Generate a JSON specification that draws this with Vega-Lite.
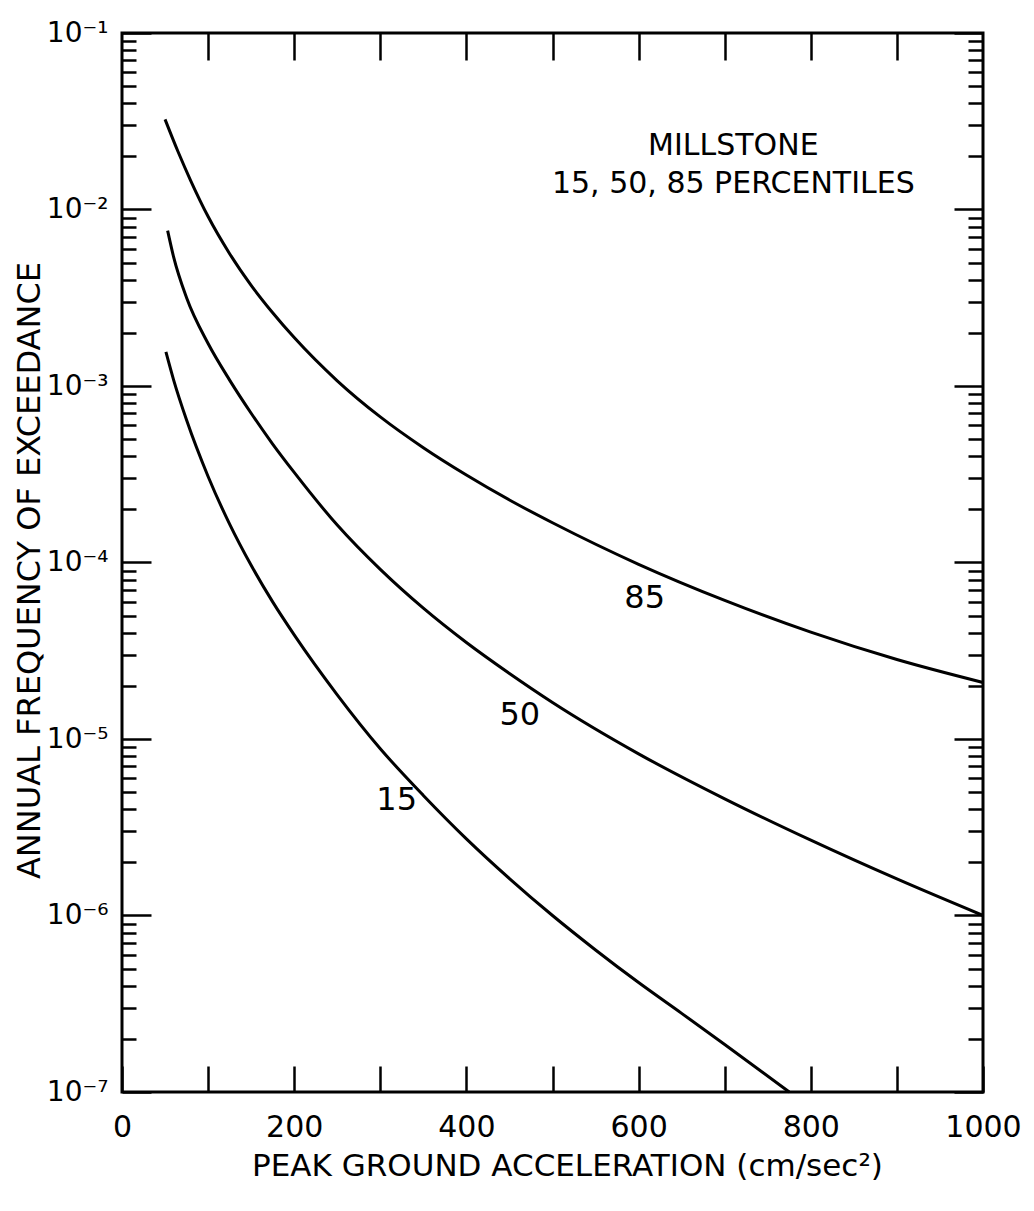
{
  "$schema": "https://vega.github.io/schema/vega-lite/v6.json",
  "width": 861,
  "height": 1059,
  "autosize": {"type": "none"},
  "padding": {"left": 122, "top": 33, "right": 51, "bottom": 119},
  "background": "white",
  "config": {
    "view": {"stroke": "black", "strokeWidth": 3},
    "font": "DejaVu Sans",
    "axis": {
      "domain": false,
      "grid": false,
      "tickColor": "black",
      "tickWidth": 2.5,
      "labelColor": "black",
      "titleColor": "black",
      "labelFont": "DejaVu Sans",
      "titleFont": "DejaVu Sans",
      "labelFontSize": 30,
      "titleFontSize": 31,
      "titleFontWeight": "normal",
      "labelOverlap": false,
      "labelFlush": false
    }
  },
  "datasets": {
    "curves": [
      {"pct": "85", "pga": 50, "freq": 3.24e-2},
      {"pct": "85", "pga": 65, "freq": 2.13e-2},
      {"pct": "85", "pga": 80, "freq": 1.45e-2},
      {"pct": "85", "pga": 100, "freq": 9.12e-3},
      {"pct": "85", "pga": 125, "freq": 5.62e-3},
      {"pct": "85", "pga": 150, "freq": 3.72e-3},
      {"pct": "85", "pga": 175, "freq": 2.6e-3},
      {"pct": "85", "pga": 200, "freq": 1.88e-3},
      {"pct": "85", "pga": 250, "freq": 1.07e-3},
      {"pct": "85", "pga": 300, "freq": 6.68e-4},
      {"pct": "85", "pga": 350, "freq": 4.47e-4},
      {"pct": "85", "pga": 400, "freq": 3.13e-4},
      {"pct": "85", "pga": 450, "freq": 2.26e-4},
      {"pct": "85", "pga": 500, "freq": 1.68e-4},
      {"pct": "85", "pga": 600, "freq": 9.77e-5},
      {"pct": "85", "pga": 700, "freq": 6.1e-5},
      {"pct": "85", "pga": 800, "freq": 4.03e-5},
      {"pct": "85", "pga": 900, "freq": 2.82e-5},
      {"pct": "85", "pga": 1000, "freq": 2.09e-5},
      {"pct": "50", "pga": 53, "freq": 7.59e-3},
      {"pct": "50", "pga": 60, "freq": 5.37e-3},
      {"pct": "50", "pga": 75, "freq": 3.16e-3},
      {"pct": "50", "pga": 100, "freq": 1.74e-3},
      {"pct": "50", "pga": 125, "freq": 1.08e-3},
      {"pct": "50", "pga": 150, "freq": 7.01e-4},
      {"pct": "50", "pga": 175, "freq": 4.69e-4},
      {"pct": "50", "pga": 200, "freq": 3.24e-4},
      {"pct": "50", "pga": 250, "freq": 1.63e-4},
      {"pct": "50", "pga": 300, "freq": 9.14e-5},
      {"pct": "50", "pga": 350, "freq": 5.51e-5},
      {"pct": "50", "pga": 400, "freq": 3.52e-5},
      {"pct": "50", "pga": 450, "freq": 2.35e-5},
      {"pct": "50", "pga": 500, "freq": 1.61e-5},
      {"pct": "50", "pga": 600, "freq": 8.24e-6},
      {"pct": "50", "pga": 700, "freq": 4.58e-6},
      {"pct": "50", "pga": 800, "freq": 2.67e-6},
      {"pct": "50", "pga": 900, "freq": 1.61e-6},
      {"pct": "50", "pga": 1000, "freq": 1.0e-6},
      {"pct": "15", "pga": 51, "freq": 1.56e-3},
      {"pct": "15", "pga": 60, "freq": 1.08e-3},
      {"pct": "15", "pga": 75, "freq": 6.41e-4},
      {"pct": "15", "pga": 100, "freq": 3.07e-4},
      {"pct": "15", "pga": 125, "freq": 1.65e-4},
      {"pct": "15", "pga": 150, "freq": 9.64e-5},
      {"pct": "15", "pga": 175, "freq": 5.98e-5},
      {"pct": "15", "pga": 200, "freq": 3.89e-5},
      {"pct": "15", "pga": 250, "freq": 1.78e-5},
      {"pct": "15", "pga": 300, "freq": 8.81e-6},
      {"pct": "15", "pga": 350, "freq": 4.79e-6},
      {"pct": "15", "pga": 400, "freq": 2.72e-6},
      {"pct": "15", "pga": 450, "freq": 1.62e-6},
      {"pct": "15", "pga": 500, "freq": 1.0e-6},
      {"pct": "15", "pga": 550, "freq": 6.38e-7},
      {"pct": "15", "pga": 600, "freq": 4.17e-7},
      {"pct": "15", "pga": 650, "freq": 2.79e-7},
      {"pct": "15", "pga": 700, "freq": 1.86e-7},
      {"pct": "15", "pga": 775, "freq": 1.0e-7}
    ],
    "curveLabels": [
      {"text": "85", "pga": 607, "freq": 6.3e-5},
      {"text": "50", "pga": 462, "freq": 1.37e-5},
      {"text": "15", "pga": 319, "freq": 4.5e-6}
    ],
    "notes": [
      {"text": "MILLSTONE", "pga": 710, "freq": 2.29e-2},
      {"text": "15, 50, 85 PERCENTILES", "pga": 710, "freq": 1.40e-2}
    ]
  },
  "resolve": {"axis": {"x": "independent", "y": "independent"}},
  "layer": [
    {
      "data": {"name": "curves"},
      "mark": {"type": "line", "interpolate": "monotone", "color": "black", "strokeWidth": 3},
      "encoding": {
        "x": {
          "field": "pga", "type": "quantitative",
          "scale": {"domain": [0, 1000], "nice": false, "zero": false},
          "axis": {
            "orient": "bottom",
            "values": [0, 100, 200, 300, 400, 500, 600, 700, 800, 900, 1000],
            "labelExpr": "datum.value % 200 == 0 ? datum.label : ''",
            "format": "d",
            "tickSize": -26,
            "labelPadding": 46,
            "title": "PEAK GROUND ACCELERATION (cm/sec²)",
            "titlePadding": 9,
            "titleX": 445
          }
        },
        "y": {
          "field": "freq", "type": "quantitative",
          "scale": {"type": "log", "domain": [1e-7, 0.1], "nice": false},
          "axis": {
            "orient": "left",
            "values": [1e-7, 1e-6, 1e-5, 1e-4, 1e-3, 1e-2, 1e-1],
            "labelExpr": "'10⁻' + ['⁰','¹','²','³','⁴','⁵','⁶','⁷','⁸','⁹'][round(-log(datum.value)/LN10)]",
            "labelFontSize": 28,
            "tickSize": -29,
            "labelPadding": 43,
            "title": "ANNUAL FREQUENCY OF EXCEEDANCE",
            "titleFontSize": 32,
            "titleX": -76,
            "titleY": 537
          }
        },
        "detail": {"field": "pct", "type": "nominal"}
      }
    },
    {
      "data": {"name": "curveLabels"},
      "mark": {"type": "text", "fontSize": 32, "font": "DejaVu Sans", "color": "black", "align": "center", "baseline": "middle"},
      "encoding": {
        "text": {"field": "text"},
        "x": {
          "field": "pga", "type": "quantitative",
          "scale": {"domain": [0, 1000], "nice": false, "zero": false},
          "axis": {
            "orient": "top",
            "values": [100, 200, 300, 400, 500, 600, 700, 800, 900],
            "labels": false,
            "tickSize": -27,
            "title": null
          }
        },
        "y": {
          "field": "freq", "type": "quantitative",
          "scale": {"type": "log", "domain": [1e-7, 0.1], "nice": false},
          "axis": {
            "orient": "left",
            "values": [2e-7, 3e-7, 4e-7, 5e-7, 6e-7, 7e-7, 8e-7, 9e-7, 2e-6, 3e-6, 4e-6, 5e-6, 6e-6, 7e-6, 8e-6, 9e-6, 2e-5, 3e-5, 4e-5, 5e-5, 6e-5, 7e-5, 8e-5, 9e-5, 2e-4, 3e-4, 4e-4, 5e-4, 6e-4, 7e-4, 8e-4, 9e-4, 2e-3, 3e-3, 4e-3, 5e-3, 6e-3, 7e-3, 8e-3, 9e-3, 2e-2, 3e-2, 4e-2, 5e-2, 6e-2, 7e-2, 8e-2, 9e-2],
            "labels": false,
            "tickSize": -14,
            "title": null
          }
        }
      }
    },
    {
      "data": {"name": "notes"},
      "mark": {"type": "text", "fontSize": 30, "font": "DejaVu Sans", "color": "black", "align": "center", "baseline": "middle"},
      "encoding": {
        "text": {"field": "text"},
        "x": {
          "field": "pga", "type": "quantitative",
          "scale": {"domain": [0, 1000], "nice": false, "zero": false},
          "axis": null
        },
        "y": {
          "field": "freq", "type": "quantitative",
          "scale": {"type": "log", "domain": [1e-7, 0.1], "nice": false},
          "axis": {
            "orient": "right",
            "values": [1e-7, 1e-6, 1e-5, 1e-4, 1e-3, 1e-2, 1e-1],
            "labels": false,
            "tickSize": -29,
            "title": null
          }
        }
      }
    },
    {
      "data": {"name": "curves"},
      "mark": {"type": "point", "opacity": 0},
      "encoding": {
        "x": {
          "field": "pga", "type": "quantitative",
          "scale": {"domain": [0, 1000], "nice": false, "zero": false},
          "axis": null
        },
        "y": {
          "field": "freq", "type": "quantitative",
          "scale": {"type": "log", "domain": [1e-7, 0.1], "nice": false},
          "axis": {
            "orient": "right",
            "values": [2e-7, 3e-7, 4e-7, 5e-7, 6e-7, 7e-7, 8e-7, 9e-7, 2e-6, 3e-6, 4e-6, 5e-6, 6e-6, 7e-6, 8e-6, 9e-6, 2e-5, 3e-5, 4e-5, 5e-5, 6e-5, 7e-5, 8e-5, 9e-5, 2e-4, 3e-4, 4e-4, 5e-4, 6e-4, 7e-4, 8e-4, 9e-4, 2e-3, 3e-3, 4e-3, 5e-3, 6e-3, 7e-3, 8e-3, 9e-3, 2e-2, 3e-2, 4e-2, 5e-2, 6e-2, 7e-2, 8e-2, 9e-2],
            "labels": false,
            "tickSize": -15,
            "title": null
          }
        }
      }
    }
  ]
}
